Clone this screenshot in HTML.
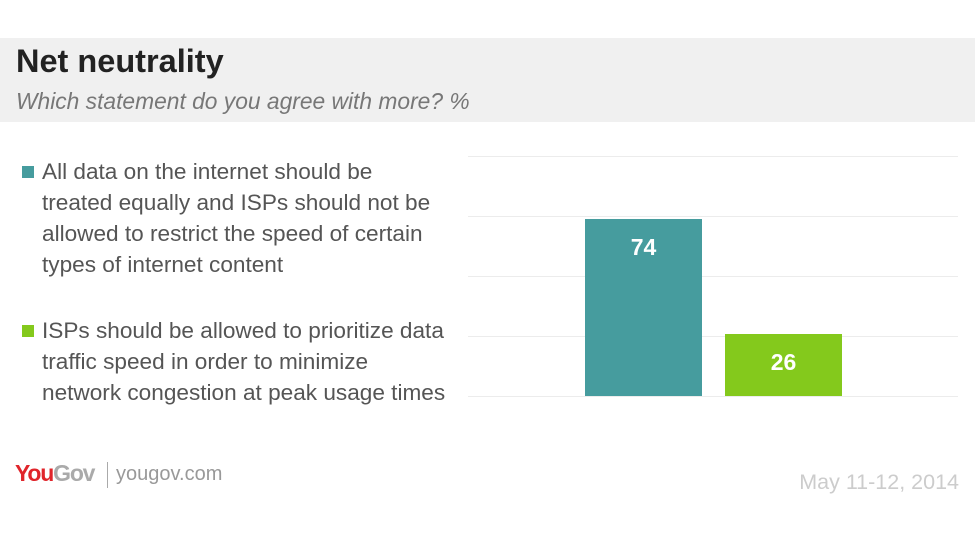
<!DOCTYPE html>
<html><head><style>
body{margin:0;width:975px;height:547px;background:#fff;position:relative;overflow:hidden;font-family:"Liberation Sans","DejaVu Sans",sans-serif}
.hdr{position:absolute;left:0;top:38px;width:975px;height:84px;background:#f0f0f0}
.t{position:absolute;left:16px;top:43px;font-size:32.5px;font-weight:bold;color:#222}
.s{position:absolute;left:16px;top:88px;font-size:22.8px;font-style:italic;color:#777}
.lg{position:absolute;left:42px;font-size:22.6px;line-height:31px;color:#555;white-space:nowrap}
.sq{position:absolute;left:22px;width:12px;height:12px}
.g{position:absolute;left:468px;width:490px;height:1px;background:#ececec}
.b{position:absolute;color:#fff;font-weight:bold;font-size:23px;text-align:center}
</style></head><body>
<div class="hdr"></div>
<div class="t">Net neutrality</div>
<div class="s">Which statement do you agree with more? %</div>
<div class="sq" style="top:166px;background:#469c9e"></div>
<div class="lg" style="top:156px">All data on the internet should be<br>treated equally and ISPs should not be<br>allowed to restrict the speed of certain<br>types of internet content</div>
<div class="sq" style="top:325px;background:#84c91c"></div>
<div class="lg" style="top:315px">ISPs should be allowed to prioritize data<br>traffic speed in order to minimize<br>network congestion at peak usage times</div>
<div class="g" style="top:156px"></div><div class="g" style="top:216px"></div><div class="g" style="top:276px"></div><div class="g" style="top:336px"></div><div class="g" style="top:396px"></div>
<div class="b" style="left:585px;top:219px;width:117px;height:177px;background:#469c9e"><div style="margin-top:15px">74</div></div>
<div class="b" style="left:725px;top:334px;width:117px;height:62px;background:#84c91c"><div style="margin-top:15px">26</div></div>
<div style="position:absolute;left:15px;top:460px;font-size:23px;font-weight:bold;letter-spacing:-1.2px"><span style="color:#e0252b">You</span><span style="color:#aaa">Gov</span></div>
<div style="position:absolute;left:107px;top:462px;width:1px;height:26px;background:#aaa"></div>
<div style="position:absolute;left:116px;top:463px;font-size:20px;color:#999">yougov.com</div>
<div style="position:absolute;right:16px;top:470px;font-size:21.5px;color:#ccc">May 11-12, 2014</div>
</body></html>
